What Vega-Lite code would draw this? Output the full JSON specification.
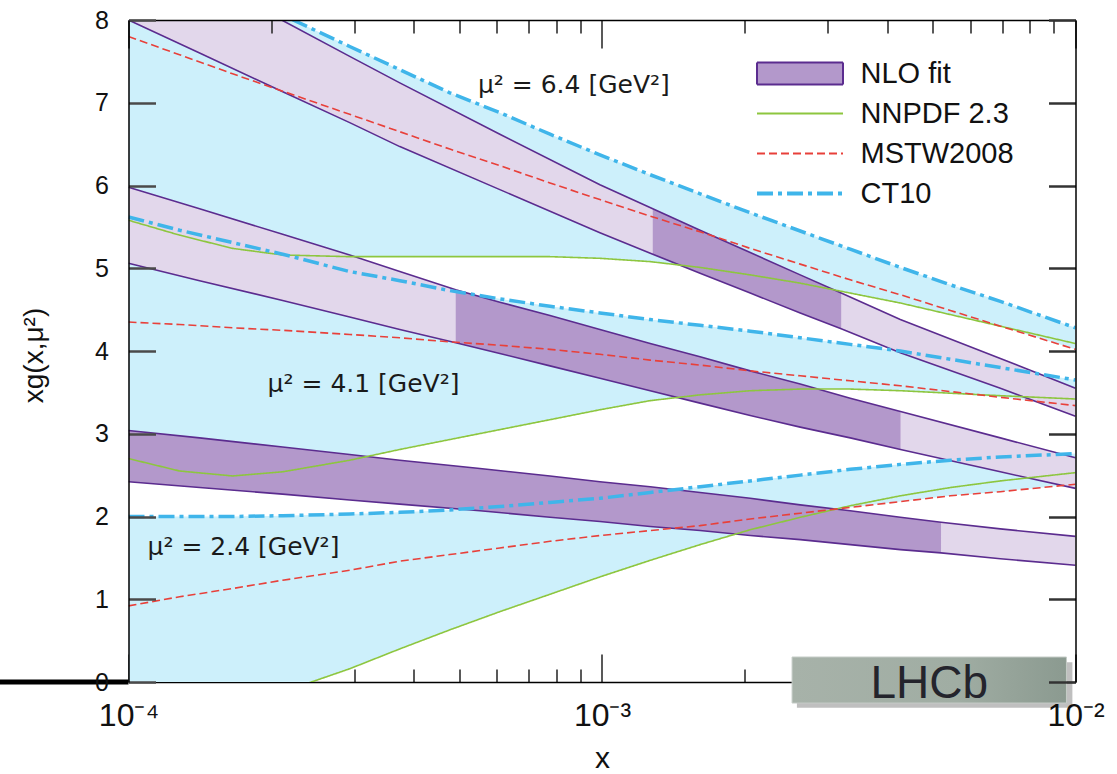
{
  "$schema": "https://vega.github.io/schema/vega-lite/v6.json",
  "width": 947,
  "height": 662,
  "autosize": {"type": "none"},
  "padding": {"left": 128.5, "top": 20, "right": 41.5, "bottom": 92},
  "background": "#ffffff",
  "config": {"view": {"stroke": null}, "font": "Liberation Sans"},
  "datasets": {
    "pdf": [
      {"x": 0.0001, "m": "6.4", "nn": 5.58, "ms": 7.80, "ct": 8.90, "lo": 5.58, "hi": 8.90},
      {"x": 0.0001282, "m": "6.4", "nn": 5.40, "ms": 7.58, "ct": 8.62, "lo": 5.40, "hi": 8.62},
      {"x": 0.0001659, "m": "6.4", "nn": 5.24, "ms": 7.35, "ct": 8.34, "lo": 5.24, "hi": 8.34},
      {"x": 0.0002116, "m": "6.4", "nn": 5.16, "ms": 7.14, "ct": 8.06, "lo": 5.16, "hi": 8.06},
      {"x": 0.0002932, "m": "6.4", "nn": 5.14, "ms": 6.86, "ct": 7.68, "lo": 5.14, "hi": 7.68},
      {"x": 0.0003741, "m": "6.4", "nn": 5.14, "ms": 6.65, "ct": 7.40, "lo": 5.14, "hi": 7.40},
      {"x": 0.0004771, "m": "6.4", "nn": 5.14, "ms": 6.44, "ct": 7.12, "lo": 5.14, "hi": 7.12},
      {"x": 0.0006085, "m": "6.4", "nn": 5.14, "ms": 6.24, "ct": 6.88, "lo": 5.14, "hi": 6.88},
      {"x": 0.0007765, "m": "6.4", "nn": 5.14, "ms": 6.03, "ct": 6.62, "lo": 5.14, "hi": 6.62},
      {"x": 0.00099, "m": "6.4", "nn": 5.12, "ms": 5.83, "ct": 6.37, "lo": 5.12, "hi": 6.37},
      {"x": 0.001264, "m": "6.4", "nn": 5.08, "ms": 5.63, "ct": 6.13, "lo": 5.08, "hi": 6.13},
      {"x": 0.001611, "m": "6.4", "nn": 5.01, "ms": 5.44, "ct": 5.90, "lo": 5.01, "hi": 5.90},
      {"x": 0.002056, "m": "6.4", "nn": 4.92, "ms": 5.24, "ct": 5.67, "lo": 4.92, "hi": 5.67},
      {"x": 0.002622, "m": "6.4", "nn": 4.82, "ms": 5.05, "ct": 5.45, "lo": 4.82, "hi": 5.45},
      {"x": 0.003344, "m": "6.4", "nn": 4.70, "ms": 4.86, "ct": 5.23, "lo": 4.70, "hi": 5.23},
      {"x": 0.004266, "m": "6.4", "nn": 4.58, "ms": 4.68, "ct": 5.01, "lo": 4.58, "hi": 5.01},
      {"x": 0.005441, "m": "6.4", "nn": 4.44, "ms": 4.49, "ct": 4.80, "lo": 4.44, "hi": 4.80},
      {"x": 0.006939, "m": "6.4", "nn": 4.30, "ms": 4.30, "ct": 4.60, "lo": 4.30, "hi": 4.60},
      {"x": 0.01, "m": "6.4", "nn": 4.09, "ms": 4.02, "ct": 4.28, "lo": 4.02, "hi": 4.28},
      {"x": 0.0001, "m": "4.1", "nn": 2.70, "ms": 4.35, "ct": 5.62, "lo": 2.70, "hi": 5.62},
      {"x": 0.0001282, "m": "4.1", "nn": 2.55, "ms": 4.32, "ct": 5.46, "lo": 2.55, "hi": 5.46},
      {"x": 0.0001659, "m": "4.1", "nn": 2.49, "ms": 4.28, "ct": 5.31, "lo": 2.49, "hi": 5.31},
      {"x": 0.0002116, "m": "4.1", "nn": 2.54, "ms": 4.25, "ct": 5.17, "lo": 2.54, "hi": 5.17},
      {"x": 0.0002932, "m": "4.1", "nn": 2.68, "ms": 4.20, "ct": 4.96, "lo": 2.68, "hi": 4.96},
      {"x": 0.0003741, "m": "4.1", "nn": 2.81, "ms": 4.16, "ct": 4.85, "lo": 2.81, "hi": 4.85},
      {"x": 0.0004771, "m": "4.1", "nn": 2.93, "ms": 4.11, "ct": 4.73, "lo": 2.93, "hi": 4.73},
      {"x": 0.0006085, "m": "4.1", "nn": 3.05, "ms": 4.07, "ct": 4.63, "lo": 3.05, "hi": 4.63},
      {"x": 0.0007765, "m": "4.1", "nn": 3.17, "ms": 4.02, "ct": 4.54, "lo": 3.17, "hi": 4.54},
      {"x": 0.00099, "m": "4.1", "nn": 3.29, "ms": 3.96, "ct": 4.46, "lo": 3.29, "hi": 4.46},
      {"x": 0.001264, "m": "4.1", "nn": 3.40, "ms": 3.89, "ct": 4.38, "lo": 3.40, "hi": 4.38},
      {"x": 0.001611, "m": "4.1", "nn": 3.47, "ms": 3.83, "ct": 4.31, "lo": 3.47, "hi": 4.31},
      {"x": 0.002056, "m": "4.1", "nn": 3.52, "ms": 3.76, "ct": 4.24, "lo": 3.52, "hi": 4.24},
      {"x": 0.002622, "m": "4.1", "nn": 3.54, "ms": 3.70, "ct": 4.16, "lo": 3.54, "hi": 4.16},
      {"x": 0.003344, "m": "4.1", "nn": 3.54, "ms": 3.64, "ct": 4.08, "lo": 3.54, "hi": 4.08},
      {"x": 0.004266, "m": "4.1", "nn": 3.52, "ms": 3.58, "ct": 4.00, "lo": 3.52, "hi": 4.00},
      {"x": 0.005441, "m": "4.1", "nn": 3.49, "ms": 3.51, "ct": 3.90, "lo": 3.49, "hi": 3.90},
      {"x": 0.006939, "m": "4.1", "nn": 3.46, "ms": 3.44, "ct": 3.80, "lo": 3.44, "hi": 3.80},
      {"x": 0.01, "m": "4.1", "nn": 3.42, "ms": 3.34, "ct": 3.65, "lo": 3.34, "hi": 3.65},
      {"x": 0.0001, "m": "2.4", "nn": -0.60, "ms": 0.92, "ct": 2.00, "lo": -0.60, "hi": 2.00},
      {"x": 0.0001282, "m": "2.4", "nn": -0.45, "ms": 1.03, "ct": 2.00, "lo": -0.45, "hi": 2.00},
      {"x": 0.0001659, "m": "2.4", "nn": -0.28, "ms": 1.13, "ct": 2.00, "lo": -0.28, "hi": 2.00},
      {"x": 0.0002116, "m": "2.4", "nn": -0.12, "ms": 1.23, "ct": 2.01, "lo": -0.12, "hi": 2.01},
      {"x": 0.0002932, "m": "2.4", "nn": 0.16, "ms": 1.35, "ct": 2.03, "lo": 0.16, "hi": 2.03},
      {"x": 0.0003741, "m": "2.4", "nn": 0.40, "ms": 1.46, "ct": 2.05, "lo": 0.40, "hi": 2.05},
      {"x": 0.0004771, "m": "2.4", "nn": 0.63, "ms": 1.54, "ct": 2.08, "lo": 0.63, "hi": 2.08},
      {"x": 0.0006085, "m": "2.4", "nn": 0.85, "ms": 1.62, "ct": 2.12, "lo": 0.85, "hi": 2.12},
      {"x": 0.0007765, "m": "2.4", "nn": 1.06, "ms": 1.70, "ct": 2.17, "lo": 1.06, "hi": 2.17},
      {"x": 0.00099, "m": "2.4", "nn": 1.27, "ms": 1.77, "ct": 2.22, "lo": 1.27, "hi": 2.22},
      {"x": 0.001264, "m": "2.4", "nn": 1.47, "ms": 1.83, "ct": 2.29, "lo": 1.47, "hi": 2.29},
      {"x": 0.001611, "m": "2.4", "nn": 1.66, "ms": 1.89, "ct": 2.36, "lo": 1.66, "hi": 2.36},
      {"x": 0.002056, "m": "2.4", "nn": 1.84, "ms": 1.97, "ct": 2.43, "lo": 1.84, "hi": 2.43},
      {"x": 0.002622, "m": "2.4", "nn": 1.99, "ms": 2.04, "ct": 2.50, "lo": 1.99, "hi": 2.50},
      {"x": 0.003344, "m": "2.4", "nn": 2.13, "ms": 2.11, "ct": 2.57, "lo": 2.11, "hi": 2.57},
      {"x": 0.004266, "m": "2.4", "nn": 2.25, "ms": 2.18, "ct": 2.63, "lo": 2.18, "hi": 2.63},
      {"x": 0.005441, "m": "2.4", "nn": 2.35, "ms": 2.25, "ct": 2.68, "lo": 2.25, "hi": 2.68},
      {"x": 0.006939, "m": "2.4", "nn": 2.43, "ms": 2.30, "ct": 2.72, "lo": 2.30, "hi": 2.72},
      {"x": 0.01, "m": "2.4", "nn": 2.53, "ms": 2.39, "ct": 2.76, "lo": 2.39, "hi": 2.76}
    ],
    "nlo": [
      {"x": 0.0001, "m": "6.4", "lo": 8.00, "hi": 8.98},
      {"x": 0.0001413, "m": "6.4", "lo": 7.60, "hi": 8.52},
      {"x": 0.0002106, "m": "6.4", "lo": 7.14, "hi": 8.00},
      {"x": 0.0002932, "m": "6.4", "lo": 6.76, "hi": 7.56},
      {"x": 0.0003741, "m": "6.4", "lo": 6.47, "hi": 7.24},
      {"x": 0.0006085, "m": "6.4", "lo": 5.95, "hi": 6.62},
      {"x": 0.00099, "m": "6.4", "lo": 5.43, "hi": 6.01},
      {"x": 0.00128, "m": "6.4", "lo": 5.17, "hi": 5.72},
      {"x": 0.001611, "m": "6.4", "lo": 4.94, "hi": 5.46},
      {"x": 0.002056, "m": "6.4", "lo": 4.70, "hi": 5.19},
      {"x": 0.002622, "m": "6.4", "lo": 4.46, "hi": 4.92},
      {"x": 0.0032, "m": "6.4", "lo": 4.27, "hi": 4.70},
      {"x": 0.004266, "m": "6.4", "lo": 3.98, "hi": 4.38},
      {"x": 0.006939, "m": "6.4", "lo": 3.55, "hi": 3.91},
      {"x": 0.01, "m": "6.4", "lo": 3.21, "hi": 3.55},
      {"x": 0.0001, "m": "4.1", "lo": 5.06, "hi": 5.98},
      {"x": 0.0001413, "m": "4.1", "lo": 4.85, "hi": 5.72},
      {"x": 0.0002116, "m": "4.1", "lo": 4.61, "hi": 5.41},
      {"x": 0.0002932, "m": "4.1", "lo": 4.41, "hi": 5.16},
      {"x": 0.0003741, "m": "4.1", "lo": 4.26, "hi": 4.96},
      {"x": 0.000491, "m": "4.1", "lo": 4.10, "hi": 4.74},
      {"x": 0.0006085, "m": "4.1", "lo": 3.97, "hi": 4.59},
      {"x": 0.0007765, "m": "4.1", "lo": 3.82, "hi": 4.43},
      {"x": 0.00099, "m": "4.1", "lo": 3.67, "hi": 4.26},
      {"x": 0.001264, "m": "4.1", "lo": 3.52, "hi": 4.09},
      {"x": 0.001611, "m": "4.1", "lo": 3.37, "hi": 3.93},
      {"x": 0.002056, "m": "4.1", "lo": 3.22, "hi": 3.76},
      {"x": 0.002622, "m": "4.1", "lo": 3.08, "hi": 3.60},
      {"x": 0.003344, "m": "4.1", "lo": 2.95, "hi": 3.43},
      {"x": 0.00427, "m": "4.1", "lo": 2.81, "hi": 3.27},
      {"x": 0.006939, "m": "4.1", "lo": 2.54, "hi": 2.95},
      {"x": 0.01, "m": "4.1", "lo": 2.34, "hi": 2.71},
      {"x": 0.0001, "m": "2.4", "lo": 2.42, "hi": 3.04},
      {"x": 0.0001413, "m": "2.4", "lo": 2.35, "hi": 2.95},
      {"x": 0.0002116, "m": "2.4", "lo": 2.27, "hi": 2.84},
      {"x": 0.0002932, "m": "2.4", "lo": 2.20, "hi": 2.75},
      {"x": 0.0003741, "m": "2.4", "lo": 2.15, "hi": 2.68},
      {"x": 0.0005523, "m": "2.4", "lo": 2.07, "hi": 2.58},
      {"x": 0.0007765, "m": "2.4", "lo": 1.99, "hi": 2.49},
      {"x": 0.00099, "m": "2.4", "lo": 1.94, "hi": 2.42},
      {"x": 0.001264, "m": "2.4", "lo": 1.88, "hi": 2.36},
      {"x": 0.001611, "m": "2.4", "lo": 1.83, "hi": 2.29},
      {"x": 0.002056, "m": "2.4", "lo": 1.77, "hi": 2.22},
      {"x": 0.002622, "m": "2.4", "lo": 1.72, "hi": 2.14},
      {"x": 0.003344, "m": "2.4", "lo": 1.66, "hi": 2.07},
      {"x": 0.004266, "m": "2.4", "lo": 1.60, "hi": 1.99},
      {"x": 0.0052, "m": "2.4", "lo": 1.56, "hi": 1.93},
      {"x": 0.006939, "m": "2.4", "lo": 1.49, "hi": 1.85},
      {"x": 0.01, "m": "2.4", "lo": 1.41, "hi": 1.76}
    ]
  },
  "layer": [
    {
      "data": {"name": "pdf"},
      "mark": {"type": "area", "clip": true, "color": "#cdf0fb"},
      "encoding": {
        "x": {"field": "x", "type": "quantitative", "scale": {"type": "log", "domain": [0.0001, 0.01], "nice": false},
          "axis": {"orient": "bottom", "zindex": 0, "grid": false,
            "values": [0.0001, 0.0002, 0.0003, 0.0004, 0.0005, 0.0006, 0.0007, 0.0008, 0.0009, 0.001, 0.002, 0.003, 0.004, 0.005, 0.006, 0.007, 0.008, 0.009, 0.01],
            "tickSize": {"condition": {"test": "datum.value === 0.0001 || datum.value === 0.001 || datum.value === 0.01", "value": -28}, "value": -13},
            "tickColor": "#222222", "tickWidth": 1.5, "domainColor": "#000000", "domainWidth": 1.5,
            "labelExpr": "datum.value === 0.0001 ? '10⁻⁴' : datum.value === 0.001 ? '10⁻³' : datum.value === 0.01 ? '10⁻²' : ''",
            "labelFontSize": 32, "labelColor": "#111111", "labelFlush": false, "labelOverlap": false, "labelBound": false, "labelPadding": 46,
            "title": "x", "titleFontSize": 30, "titleFontWeight": "normal", "titleColor": "#111111",
            "titleY": 85, "titleBaseline": "alphabetic"}},
        "y": {"field": "lo", "type": "quantitative", "scale": {"domain": [0, 8], "nice": false, "zero": false},
          "axis": {"orient": "left", "zindex": 1, "grid": false, "values": [0, 1, 2, 3, 4, 5, 6, 7, 8],
            "tickSize": -27, "tickColor": "#4a4a4a", "tickWidth": 2.5, "domainColor": "#000000", "domainWidth": 1.5,
            "labelFontSize": 25, "labelColor": "#111111", "labelPadding": 47,
            "title": "xg(x,μ²)", "titleFontSize": 28, "titleFontWeight": "normal", "titleColor": "#111111",
            "titleX": -94, "titleY": 335, "titleBaseline": "middle", "titleAlign": "center", "titleAngle": -90}},
        "y2": {"field": "hi"},
        "detail": {"field": "m"}
      }
    },
    {
      "data": {"name": "nlo"},
      "mark": {"type": "area", "clip": true, "color": "#e2d7eb"},
      "encoding": {
        "x": {"field": "x", "type": "quantitative", "scale": {"type": "log", "domain": [0.0001, 0.01], "nice": false},
          "axis": {"orient": "top", "zindex": 1, "grid": false, "labels": false, "title": null,
            "values": [0.0001, 0.0002, 0.0003, 0.0004, 0.0005, 0.0006, 0.0007, 0.0008, 0.0009, 0.001, 0.002, 0.003, 0.004, 0.005, 0.006, 0.007, 0.008, 0.009, 0.01],
            "tickSize": {"condition": {"test": "datum.value === 0.0001 || datum.value === 0.001 || datum.value === 0.01", "value": -28}, "value": -13},
            "tickColor": "#222222", "tickWidth": 1.5, "domainColor": "#000000", "domainWidth": 1.5}},
        "y": {"field": "lo", "type": "quantitative", "scale": {"domain": [0, 8], "nice": false, "zero": false},
          "axis": {"orient": "right", "zindex": 1, "grid": false, "labels": false, "title": null, "values": [0, 1, 2, 3, 4, 5, 6, 7, 8],
            "tickSize": -27, "tickColor": "#333333", "tickWidth": 2.5, "domainColor": "#000000", "domainWidth": 1.5}},
        "y2": {"field": "hi"},
        "detail": {"field": "m"}
      }
    },
    {
      "data": {"name": "nlo"},
      "transform": [{"filter": "(datum.m === '2.4' && datum.x <= 0.0052) || (datum.m === '4.1' && datum.x >= 0.000491 && datum.x <= 0.00427) || (datum.m === '6.4' && datum.x >= 0.00128 && datum.x <= 0.0032)"}],
      "mark": {"type": "area", "clip": true, "color": "#b398cb"},
      "encoding": {
        "x": {"field": "x", "type": "quantitative", "scale": {"type": "log", "domain": [0.0001, 0.01], "nice": false}, "axis": null},
        "y": {"field": "lo", "type": "quantitative", "scale": {"domain": [0, 8], "nice": false, "zero": false}, "axis": null},
        "y2": {"field": "hi"},
        "detail": {"field": "m"}
      }
    },
    {
      "data": {"name": "nlo"},
      "transform": [{"fold": ["lo", "hi"], "as": ["edge", "v"]}],
      "mark": {"type": "line", "clip": true, "color": "#5b2c8f", "strokeWidth": 1.6},
      "encoding": {
        "x": {"field": "x", "type": "quantitative", "scale": {"type": "log", "domain": [0.0001, 0.01], "nice": false}, "axis": null},
        "y": {"field": "v", "type": "quantitative", "scale": {"domain": [0, 8], "nice": false, "zero": false}, "axis": null},
        "detail": [{"field": "m"}, {"field": "edge"}]
      }
    },
    {
      "data": {"name": "pdf"},
      "transform": [{"fold": ["nn", "ms", "ct"], "as": ["p", "y"]}],
      "mark": {"type": "line", "clip": true},
      "encoding": {
        "x": {"field": "x", "type": "quantitative", "scale": {"type": "log", "domain": [0.0001, 0.01], "nice": false}, "axis": null},
        "y": {"field": "y", "type": "quantitative", "scale": {"domain": [0, 8], "nice": false, "zero": false}, "axis": null},
        "color": {"field": "p", "type": "nominal",
          "scale": {"domain": ["fit", "nn", "ms", "ct"], "range": ["#5b2c8f", "#8dc63f", "#e8403a", "#3fb5ea"]},
          "legend": {"orient": "none", "legendX": 657, "legendY": 39, "title": null, "padding": 0,
            "labelExpr": "datum.value === 'fit' ? 'NLO fit' : datum.value === 'nn' ? 'NNPDF 2.3' : datum.value === 'ms' ? 'MSTW2008' : 'CT10'",
            "labelFontSize": 29, "labelFont": "Liberation Sans", "labelColor": "#111111", "labelLimit": 400,
            "symbolSize": 400, "rowPadding": 10, "labelOffset": 46, "symbolType": "stroke",
            "encode": {"symbols": {"update": {
              "shape": {"signal": "datum.value === 'fit' ? 'M-4.3,-1.1L4.3,-1.1L4.3,1.1L-4.3,1.1Z' : 'M-4.3,0L4.3,0'"},
              "fill": {"signal": "datum.value === 'fit' ? '#b398cb' : 'transparent'"},
              "stroke": {"signal": "datum.value === 'fit' ? '#5b2c8f' : datum.value === 'nn' ? '#8dc63f' : datum.value === 'ms' ? '#e8403a' : '#3fb5ea'"},
              "strokeWidth": {"signal": "datum.value === 'ct' ? 4 : 2"},
              "strokeDash": {"signal": "datum.value === 'ms' ? [9, 5] : datum.value === 'ct' ? [18, 6, 5, 6] : [1, 0]"},
              "opacity": {"value": 1}
            }}}}},
        "strokeDash": {"field": "p", "type": "nominal",
          "scale": {"domain": ["fit", "nn", "ms", "ct"], "range": [[1, 0], [1, 0], [8, 4], [16, 5, 4, 5]]}, "legend": null},
        "strokeWidth": {"condition": {"test": "datum.p === 'ct'", "value": 3.5}, "value": 1.6},
        "detail": {"field": "m"}
      }
    },
    {
      "data": {"values": [{}]},
      "mark": {"type": "text", "text": "μ² = 6.4 [GeV²]", "align": "left", "baseline": "alphabetic", "fontSize": 25, "font": "DejaVu Sans", "color": "#1a1a1a"},
      "encoding": {
        "x": {"datum": 0.000547, "type": "quantitative", "scale": {"type": "log", "domain": [0.0001, 0.01], "nice": false}, "axis": null},
        "y": {"datum": 7.12, "type": "quantitative", "scale": {"domain": [0, 8], "nice": false, "zero": false}, "axis": null}
      }
    },
    {
      "data": {"values": [{}]},
      "mark": {"type": "text", "text": "μ² = 4.1 [GeV²]", "align": "left", "baseline": "alphabetic", "fontSize": 25, "font": "DejaVu Sans", "color": "#1a1a1a"},
      "encoding": {
        "x": {"datum": 0.0001967, "type": "quantitative", "scale": {"type": "log", "domain": [0.0001, 0.01], "nice": false}, "axis": null},
        "y": {"datum": 3.51, "type": "quantitative", "scale": {"domain": [0, 8], "nice": false, "zero": false}, "axis": null}
      }
    },
    {
      "data": {"values": [{}]},
      "mark": {"type": "text", "text": "μ² = 2.4 [GeV²]", "align": "left", "baseline": "alphabetic", "fontSize": 25, "font": "DejaVu Sans", "color": "#1a1a1a"},
      "encoding": {
        "x": {"datum": 0.0001097, "type": "quantitative", "scale": {"type": "log", "domain": [0.0001, 0.01], "nice": false}, "axis": null},
        "y": {"datum": 1.535, "type": "quantitative", "scale": {"domain": [0, 8], "nice": false, "zero": false}, "axis": null}
      }
    },
    {
      "data": {"values": [{}]},
      "mark": {"type": "rect", "color": "#000000", "opacity": 0.25},
      "encoding": {
        "x": {"datum": 0.00258, "type": "quantitative", "scale": {"type": "log", "domain": [0.0001, 0.01], "nice": false}, "axis": null},
        "x2": {"datum": 0.00985},
        "y": {"datum": 0.24, "type": "quantitative", "scale": {"domain": [0, 8], "nice": false, "zero": false}, "axis": null},
        "y2": {"datum": -0.31}
      }
    },
    {
      "data": {"values": [{}]},
      "mark": {"type": "rect", "fill": {"gradient": "linear", "x1": 0, "y1": 0, "x2": 1, "y2": 0, "stops": [{"offset": 0, "color": "#a7b2a9"}, {"offset": 0.6, "color": "#a0ada3"}, {"offset": 1, "color": "#8b9a90"}]}, "stroke": "#c5ccc7", "strokeWidth": 1},
      "encoding": {
        "x": {"datum": 0.00252, "type": "quantitative", "scale": {"type": "log", "domain": [0.0001, 0.01], "nice": false}, "axis": null},
        "x2": {"datum": 0.00957},
        "y": {"datum": 0.302, "type": "quantitative", "scale": {"domain": [0, 8], "nice": false, "zero": false}, "axis": null},
        "y2": {"datum": -0.254}
      }
    },
    {
      "data": {"values": [{}]},
      "mark": {"type": "text", "text": "LHCb", "align": "center", "baseline": "alphabetic", "fontSize": 46, "font": "Liberation Sans", "color": "#24242c"},
      "encoding": {
        "x": {"datum": 0.00491, "type": "quantitative", "scale": {"type": "log", "domain": [0.0001, 0.01], "nice": false}, "axis": null},
        "y": {"datum": -0.193, "type": "quantitative", "scale": {"domain": [0, 8], "nice": false, "zero": false}, "axis": null}
      }
    },
    {
      "data": {"values": [{}]},
      "mark": {"type": "rule", "color": "#000000", "strokeWidth": 5},
      "encoding": {
        "x": {"datum": 0.0000533, "type": "quantitative", "scale": {"type": "log", "domain": [0.0001, 0.01], "nice": false}, "axis": null},
        "x2": {"datum": 0.0001},
        "y": {"datum": 0, "type": "quantitative", "scale": {"domain": [0, 8], "nice": false, "zero": false}, "axis": null}
      }
    }
  ]
}
